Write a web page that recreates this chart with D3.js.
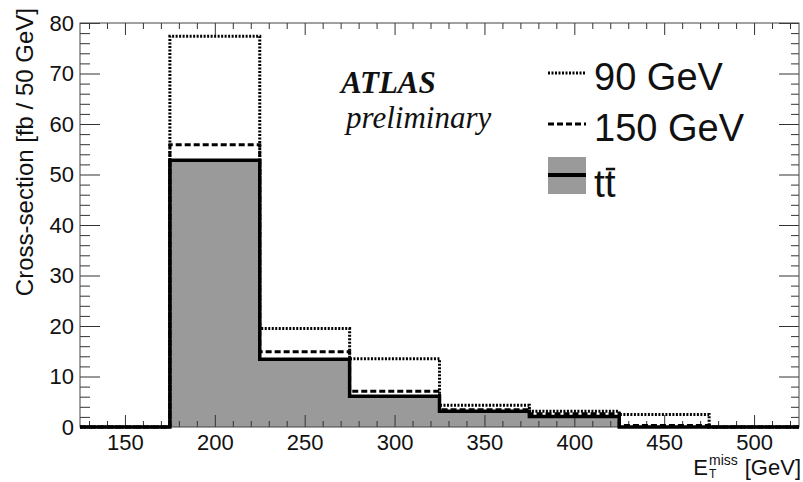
<!DOCTYPE html>
<html>
<head>
<meta charset="utf-8">
<script src="https://cdn.jsdelivr.net/npm/d3@7"></script>
<style>
  body { margin: 0; background: #fff; }
  svg { display: block; }
  text { font-family: "Liberation Sans", Helvetica, Arial, sans-serif; fill: #111; }
</style>
</head>
<body>
<svg id="canvas" width="803" height="482"></svg>
<script>
// bin edges in GeV (50 GeV wide bins)
let binEdges = [125, 175, 225, 275, 325, 375, 425, 475, 525]

// cross-section per bin [fb / 50 GeV]
let ttbar     = [0, 52.8, 13.4, 6.1, 3.1, 2.1, 0, 0]
let signal150 = [0, 55.9, 14.9, 7.1, 3.4, 2.6, 0.3, 0]
let signal90  = [0, 77.4, 19.5, 13.5, 4.3, 3.1, 2.5, 0]

let xTicks = [150, 200, 250, 300, 350, 400, 450, 500]
let yTicks = [0, 10, 20, 30, 40, 50, 60, 70, 80]
let legendLabels = ["90 GeV", "150 GeV", "tt"]

let plotL = 80, plotR = 799, plotT = 23, plotB = 427

let svg = d3.select("#canvas")

let x = d3.scaleLinear().domain([125, 525]).range([plotL, plotR])
let y = d3.scaleLinear().domain([0, 80]).range([plotB, plotT])

let steps = vals => binEdges.map((e, i) => [e, vals[Math.min(i, vals.length - 1)]])

let line = d3.line()
    .x(d => x(d[0]))
    .y(d => y(d[1]))
    .curve(d3.curveStepAfter)

let area = d3.area()
    .x(d => x(d[0]))
    .y0(y(0))
    .y1(d => y(d[1]))
    .curve(d3.curveStepAfter)

// ttbar filled histogram
svg.append("path")
    .attr("d", area(steps(ttbar)))
    .attr("fill", "#9a9a9a")

// axes ticks (inward, mirrored on all four sides)
let minorY = d3.range(0, 81, 2).filter(v => v % 10 != 0)
let minorX = d3.range(130, 525, 10).filter(v => v % 50 != 0)

let addAxis = (axis, tx, ty) => {
    let g = svg.append("g")
        .attr("transform", "translate(" + tx + "," + ty + ")")
        .call(axis)
    g.select(".domain").remove()
    g.selectAll("line").attr("stroke", "#333").attr("stroke-width", 1)
    return g
}

let yAxis = addAxis(d3.axisLeft(y).tickValues(yTicks).tickSize(-20).tickPadding(6), plotL, 0)
yAxis.selectAll("text").attr("font-size", 22).style("font-family", "Liberation Sans")
addAxis(d3.axisLeft(y).tickValues(minorY).tickSize(-10).tickFormat(""), plotL, 0)
addAxis(d3.axisRight(y).tickValues(yTicks).tickSize(-20).tickFormat(""), plotR, 0)
addAxis(d3.axisRight(y).tickValues(minorY).tickSize(-8).tickFormat(""), plotR, 0)

let xAxis = addAxis(d3.axisBottom(x).tickValues(xTicks).tickSize(-12).tickPadding(7), 0, plotB)
xAxis.selectAll("text").attr("font-size", 22).style("font-family", "Liberation Sans")
addAxis(d3.axisBottom(x).tickValues(minorX).tickSize(-6).tickFormat(""), 0, plotB)
addAxis(d3.axisTop(x).tickValues(xTicks).tickSize(-12).tickFormat(""), 0, plotT)
addAxis(d3.axisTop(x).tickValues(minorX).tickSize(-6).tickFormat(""), 0, plotT)

// frame
svg.append("rect")
    .attr("x", plotL).attr("y", plotT)
    .attr("width", plotR - plotL).attr("height", plotB - plotT)
    .attr("fill", "none").attr("stroke", "#444").attr("stroke-width", 1)

// histogram outlines
svg.append("path")
    .attr("d", line(steps(ttbar)))
    .attr("fill", "none").attr("stroke", "#000").attr("stroke-width", 3.5)

svg.append("path")
    .attr("d", line(steps(signal150)))
    .attr("fill", "none").attr("stroke", "#000").attr("stroke-width", 3)
    .attr("stroke-dasharray", "6,3")

svg.append("path")
    .attr("d", line(steps(signal90)))
    .attr("fill", "none").attr("stroke", "#000").attr("stroke-width", 3)
    .attr("stroke-dasharray", "2,1.5")

// ATLAS label
svg.append("text")
    .attr("x", 341).attr("y", 93)
    .style("font-family", "Liberation Serif")
    .attr("font-size", 31).attr("font-weight", "bold").attr("font-style", "italic")
    .text("ATLAS")
svg.append("text")
    .attr("x", 346).attr("y", 128)
    .style("font-family", "Liberation Serif")
    .attr("font-size", 31).attr("font-style", "italic")
    .text("preliminary")

// legend
let lg = svg.append("g")
lg.append("line").attr("x1", 548).attr("x2", 586).attr("y1", 73).attr("y2", 73)
    .attr("stroke", "#000").attr("stroke-width", 3).attr("stroke-dasharray", "2,1.5")
lg.append("text").attr("x", 594).attr("y", 90).attr("font-size", 38).text(legendLabels[0])
lg.append("line").attr("x1", 548).attr("x2", 586).attr("y1", 124).attr("y2", 124)
    .attr("stroke", "#000").attr("stroke-width", 3).attr("stroke-dasharray", "6,3")
lg.append("text").attr("x", 594).attr("y", 141).attr("font-size", 38).text(legendLabels[1])
lg.append("rect").attr("x", 548).attr("y", 157).attr("width", 38).attr("height", 37)
    .attr("fill", "#9a9a9a")
lg.append("line").attr("x1", 548).attr("x2", 586).attr("y1", 175).attr("y2", 175)
    .attr("stroke", "#000").attr("stroke-width", 4)
let ttText = lg.append("text").attr("x", 594).attr("y", 197).attr("font-size", 39).text(legendLabels[2])
let tW = ttText.node().getSubStringLength(0, 1)
let ttW = ttText.node().getComputedTextLength()
lg.append("line")
    .attr("x1", 594 + tW + 1).attr("x2", 594 + ttW - 0.5)
    .attr("y1", 169).attr("y2", 169)
    .attr("stroke", "#111").attr("stroke-width", 2.5)

// y axis title
svg.append("text")
    .attr("transform", "translate(33,8) rotate(-90)")
    .attr("text-anchor", "end")
    .attr("font-size", 24)
    .text("Cross-section [fb / 50 GeV]")

// x axis title: E_T^miss [GeV]
let xt = svg.append("g")
let unit = xt.append("text").attr("x", 801).attr("y", 475)
    .attr("text-anchor", "end").attr("font-size", 22).text("[GeV]")
let ux = 801 - unit.node().getComputedTextLength()
let sup = xt.append("text").attr("y", 465).attr("font-size", 14).text("miss")
let supW = sup.node().getComputedTextLength()
sup.attr("x", ux - 7 - supW)
xt.append("text").attr("x", ux - 7 - supW).attr("y", 478).attr("font-size", 12).text("T")
let e = xt.append("text").attr("y", 475).attr("font-size", 22).text("E")
e.attr("x", ux - 7 - supW - 1 - e.node().getComputedTextLength())
</script>
</body>
</html>
